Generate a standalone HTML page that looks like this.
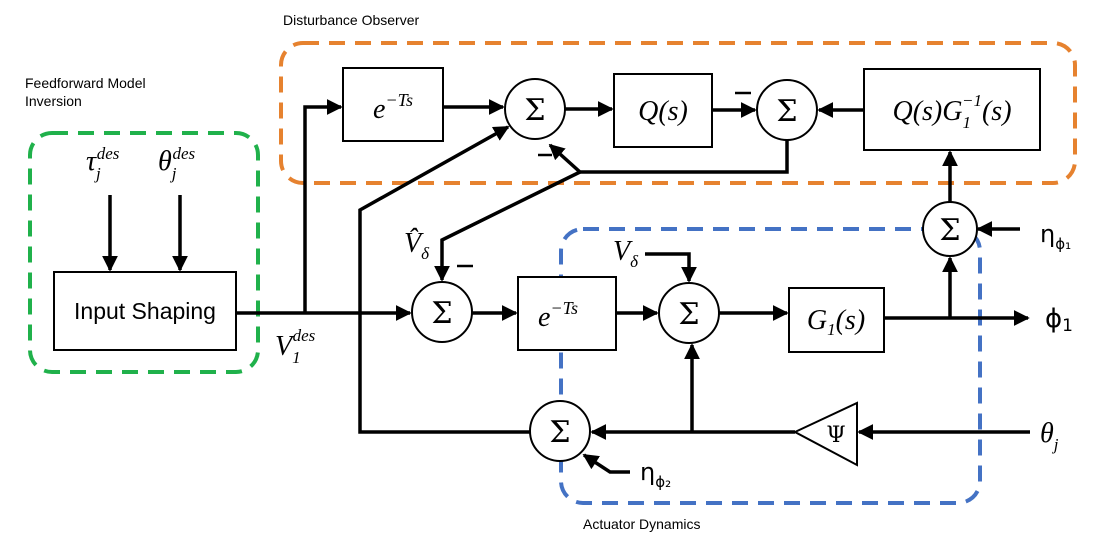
<!DOCTYPE html>
<html><head><meta charset="utf-8"><style>
html,body{margin:0;padding:0;background:#fff;width:1115px;height:552px;overflow:hidden}
svg{display:block}
.m{font-family:"Liberation Serif",serif;font-style:italic;font-size:28px}
.s{font-family:"Liberation Sans",sans-serif;font-size:14px}
.g{font-family:"DejaVu Serif","Liberation Serif",serif;font-size:30px}
.w{stroke:#000;stroke-width:3.5;fill:none}
.b{stroke:#000;stroke-width:2;fill:#fff}
</style></head><body>
<svg width="1115" height="552" viewBox="0 0 1115 552">
<defs><marker id="a" markerWidth="4.5" markerHeight="4.5" refX="4" refY="2.25" orient="auto" markerUnits="strokeWidth"><path d="M0,0 L4.5,2.25 L0,4.5z" fill="#000"/></marker></defs>
<rect x="281" y="43" width="794" height="140" rx="22" fill="none" stroke="#e6822f" stroke-width="4" stroke-dasharray="16,10"/>
<rect x="30" y="133" width="228" height="239" rx="22" fill="none" stroke="#20b14b" stroke-width="4" stroke-dasharray="16,10"/>
<rect x="561" y="229" width="419" height="274" rx="22" fill="none" stroke="#4472c4" stroke-width="4" stroke-dasharray="16,10"/>
<text class="s" x="283" y="25">Disturbance Observer</text>
<text class="s" x="25" y="88">Feedforward Model</text>
<text class="s" x="25" y="106">Inversion</text>
<text class="s" x="583" y="529">Actuator Dynamics</text>
<g>
<path class="w" d="M110,195 V270" marker-end="url(#a)"/>
<path class="w" d="M180,195 V270" marker-end="url(#a)"/>
<path class="w" d="M236,313 H410" marker-end="url(#a)"/>
<path class="w" d="M305,313 V107 H341" marker-end="url(#a)"/>
<path class="w" d="M443,107 H503" marker-end="url(#a)"/>
<path class="w" d="M565,109 H612" marker-end="url(#a)"/>
<path class="w" d="M712,110 H755" marker-end="url(#a)"/>
<path class="w" d="M864,110 H819" marker-end="url(#a)"/>
<path class="w" d="M787,140 V172 H580 L550,145" marker-end="url(#a)"/>
<path class="w" d="M580,172 L442,240 V280" marker-end="url(#a)"/>
<path class="w" d="M530,432 H360 V210 L508,127" marker-end="url(#a)"/>
<path class="w" d="M472,313 H516" marker-end="url(#a)"/>
<path class="w" d="M616,313 H657" marker-end="url(#a)"/>
<path class="w" d="M645,254 H689 V281" marker-end="url(#a)"/>
<path class="w" d="M719,313 H787" marker-end="url(#a)"/>
<path class="w" d="M884,318 H1028" marker-end="url(#a)"/>
<path class="w" d="M950,318 V258" marker-end="url(#a)"/>
<path class="w" d="M950,202 V152" marker-end="url(#a)"/>
<path class="w" d="M1020,229 H978" marker-end="url(#a)"/>
<path class="w" d="M1030,432 H859" marker-end="url(#a)"/>
<path class="w" d="M795,432 H592" marker-end="url(#a)"/>
<path class="w" d="M692,432 V345" marker-end="url(#a)"/>
<path class="w" d="M630,472 H610 L584,455" marker-end="url(#a)"/>
</g>
<rect class="b" x="54" y="272" width="182" height="78"/>
<text x="145" y="319" text-anchor="middle" font-family="Liberation Sans,sans-serif" font-size="23">Input Shaping</text>
<rect class="b" x="343" y="68" width="100" height="73"/>
<text class="m" x="373" y="118">e<tspan font-size="18" dy="-12">−Ts</tspan></text>
<rect class="b" x="614" y="74" width="98" height="73"/>
<text class="m" x="663" y="120" text-anchor="middle">Q(s)</text>
<rect class="b" x="864" y="69" width="176" height="81"/>
<text class="m" x="952" y="120" text-anchor="middle">Q(s)G<tspan font-size="17" dy="8">1</tspan><tspan font-size="17" dx="-9" dy="-22">−1</tspan><tspan dy="14">(s)</tspan></text>
<rect class="b" x="518" y="277" width="98" height="73"/>
<text class="m" x="538" y="326">e<tspan font-size="18" dy="-12">−Ts</tspan></text>
<rect class="b" x="789" y="288" width="95" height="64"/>
<text class="m" x="836" y="329" text-anchor="middle">G<tspan font-size="17" dy="6">1</tspan><tspan dy="-6">(s)</tspan></text>
<g>
<circle class="b" cx="535" cy="109" r="30"/><text class="g" x="535" y="120" text-anchor="middle">Σ</text>
<circle class="b" cx="787" cy="110" r="30"/><text class="g" x="787" y="121" text-anchor="middle">Σ</text>
<circle class="b" cx="950" cy="229" r="27"/><text class="g" x="950" y="240" text-anchor="middle">Σ</text>
<circle class="b" cx="442" cy="312" r="30"/><text class="g" x="442" y="323" text-anchor="middle">Σ</text>
<circle class="b" cx="689" cy="313" r="30"/><text class="g" x="689" y="324" text-anchor="middle">Σ</text>
<circle class="b" cx="560" cy="431" r="30"/><text class="g" x="560" y="442" text-anchor="middle">Σ</text>
</g>
<polygon class="b" points="795,432 857,403 857,465"/>
<text x="836" y="442" text-anchor="middle" font-family="DejaVu Serif,serif" font-size="22">Ψ</text>
<g stroke="#000" stroke-width="2.5">
<path d="M538,155 H552"/><path d="M735,93 H751"/><path d="M457,266 H473"/>
</g>
<g>
<text class="m" x="86" y="170">τ<tspan font-size="17" dy="9">j</tspan><tspan font-size="17" dx="-4" dy="-20">des</tspan></text>
<text class="m" x="158" y="170">θ<tspan font-size="17" dy="9">j</tspan><tspan font-size="17" dx="-4" dy="-20">des</tspan></text>
<text class="m" x="275" y="355">V<tspan font-size="17" dy="8">1</tspan><tspan font-size="17" dx="-8" dy="-22">des</tspan></text>
<text class="m" x="404" y="252">V̂<tspan font-size="17" dy="7">δ</tspan></text>
<text class="m" x="613" y="260">V<tspan font-size="17" dy="7">δ</tspan></text>
<text x="1040" y="242" font-family="DejaVu Sans,sans-serif" font-size="24">η<tspan font-size="15" dy="7">ϕ₁</tspan></text>
<text x="1045" y="327" font-family="DejaVu Sans,sans-serif" font-size="26">ϕ<tspan font-size="17" dy="4">1</tspan></text>
<text class="m" x="1040" y="442">θ<tspan font-size="17" dy="8">j</tspan></text>
<text x="640" y="480" font-family="DejaVu Sans,sans-serif" font-size="24">η<tspan font-size="15" dy="7">ϕ₂</tspan></text>
</g>
</svg>
</body></html>
